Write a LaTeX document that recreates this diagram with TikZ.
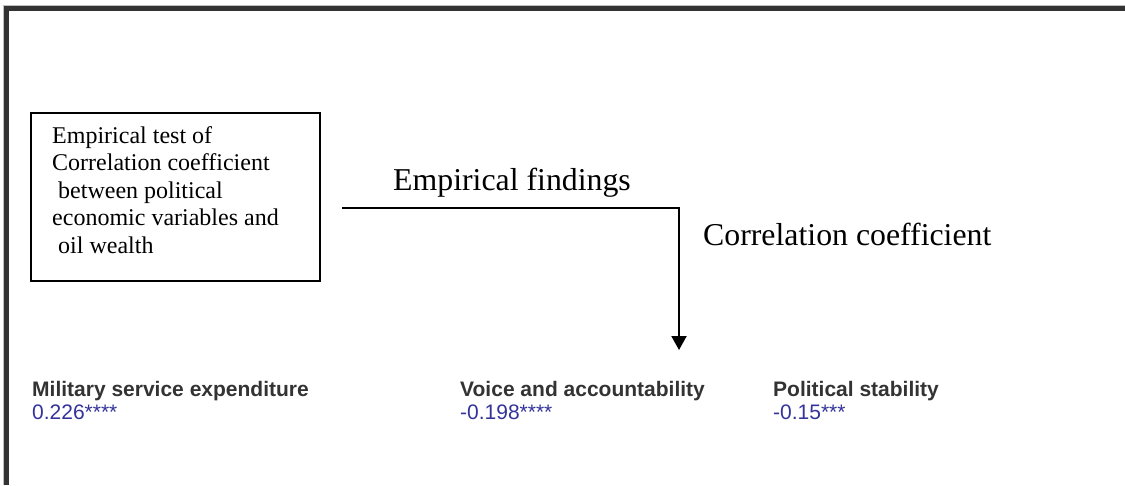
\documentclass[tikz,border=0pt]{standalone}
\usepackage{fontspec}
\setmainfont{Liberation Serif}
\newfontfamily\arialfont{Liberation Sans}
\usetikzlibrary{arrows.meta}
\definecolor{framegray}{HTML}{333333}
\definecolor{labelgray}{HTML}{333333}
\definecolor{valblue}{HTML}{333399}
\tikzset{
  boxstyle/.style={draw=black, line width=2pt, anchor=north west, minimum width=289pt, minimum height=168pt, inner sep=0pt},
  boxtext/.style={anchor=base west, inner sep=0pt, align=left, font=\fontsize{24}{27.5}\selectfont},
  bigtext/.style={anchor=base west, inner sep=0pt, font=\fontsize{31.8}{36}\selectfont},
  varname/.style={anchor=base west, inner sep=0pt, text=labelgray, font=\arialfont\bfseries\fontsize{21}{23}\selectfont},
  varval/.style={anchor=base west, inner sep=0pt, text=valblue, font=\arialfont\fontsize{21}{23}\selectfont},
  flow/.style={line width=2pt, -{Triangle[width=15pt,length=14pt]}}
}
\begin{document}
\begin{tikzpicture}[x=1pt,y=-1pt]
\useasboundingbox (0,0) rectangle (1125,485);
% outer frame (top and left)
\draw[line width=5pt, framegray] (6.5,485) -- (6.5,8.5) -- (1125,8.5);
\draw[line width=0.8pt, gray!50] (3.6,485) -- (3.6,5.6) -- (1125,5.6);
% box
\node[boxstyle] (box) at (30,112) {};
\node[boxtext] (boxtxt) at (52,253) {Empirical test of\\Correlation coefficient\\\hspace{0.25em}between political\\economic variables and\\\hspace{0.25em}oil wealth};
% labels on connector
\node[bigtext] (findings) at (393,190) {Empirical findings};
\node[bigtext] (corr) at (703,245) {Correlation coefficient};
% connector
\coordinate (start) at (342,208);
\coordinate (bend) at (679,208);
\coordinate (tip) at (679,350);
\draw[flow] (start) -- (bend) -- (tip);
% variables
\node[varname] (mil) at (32,396) {Military service expenditure};
\node[varval] (milv) at (32,419) {0.226****};
\node[varname] (voice) at (460,396) {Voice and accountability};
\node[varval] (voicev) at (460,419) {-0.198****};
\node[varname] (pol) at (773,396) {Political stability};
\node[varval] (polv) at (773,419) {-0.15***};
\end{tikzpicture}
\end{document}
